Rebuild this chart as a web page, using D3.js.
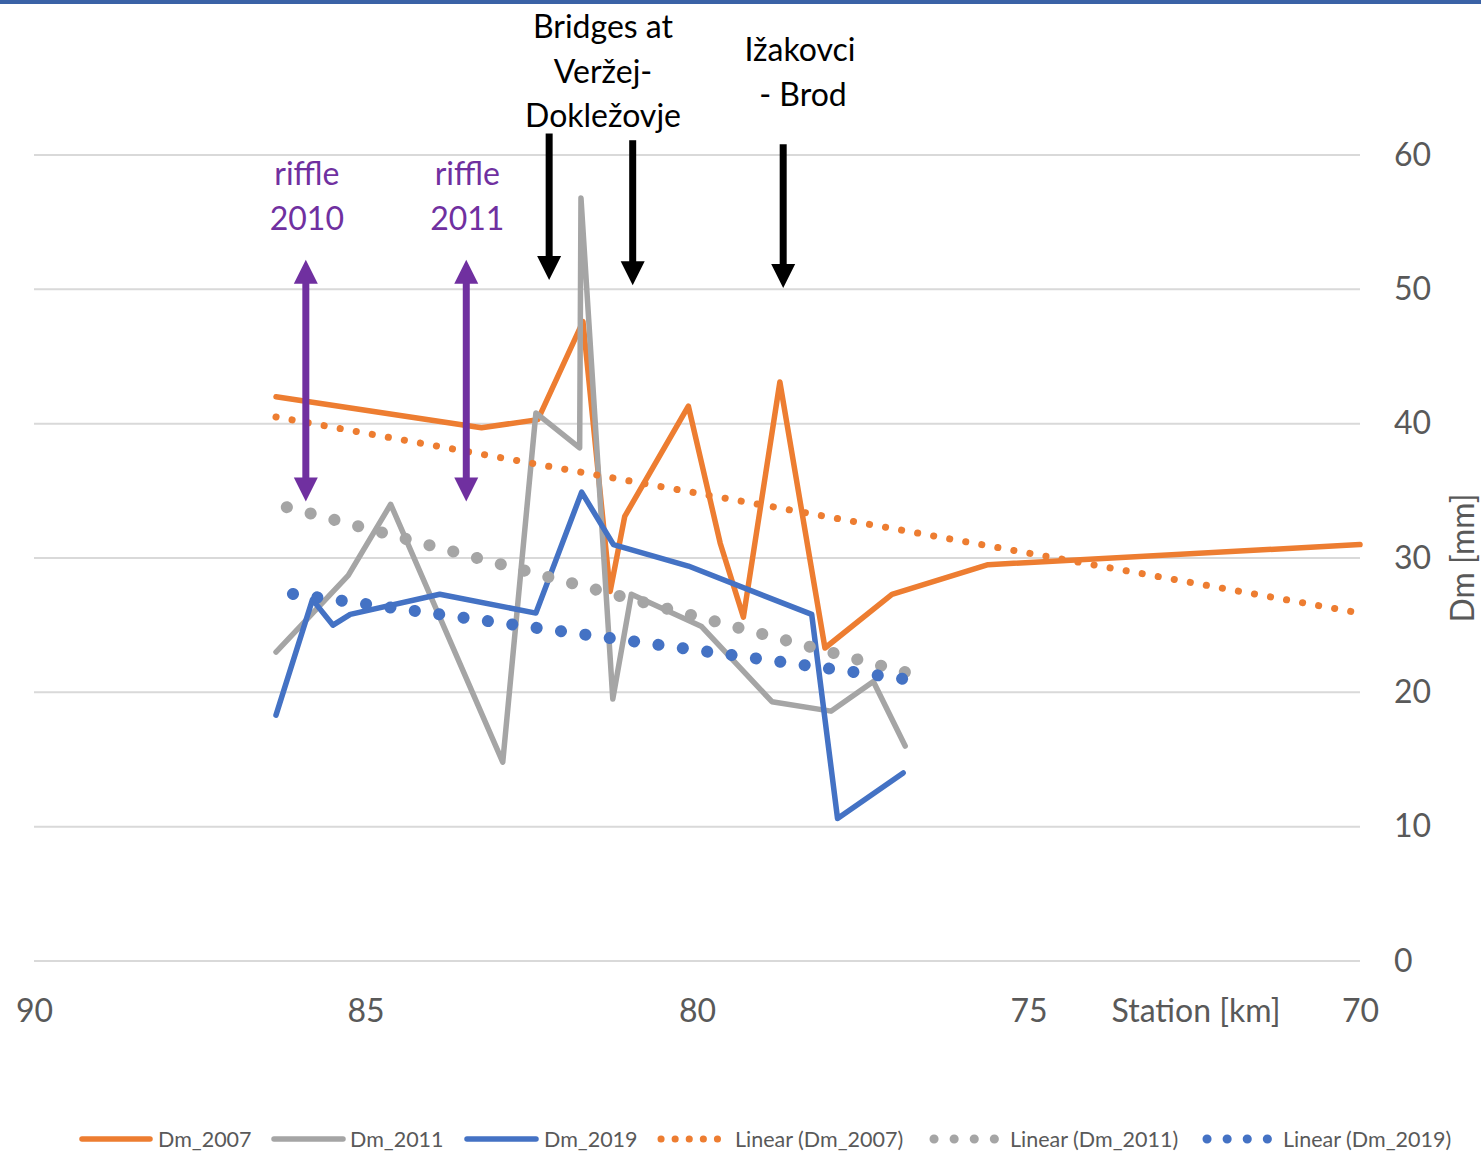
<!DOCTYPE html>
<html>
<head>
<meta charset="utf-8">
<script src="https://cdn.jsdelivr.net/npm/d3@7"></script>
<style>
  body { margin: 0; background: #fff; }
  svg { display: block; font-family: Lato, "Open Sans", sans-serif; }
</style>
</head>
<body>
<svg id="chart" width="1481" height="1151"></svg>
<script>
// station [km] and Dm [mm] per survey year
var km2007 = [86.35, 83.25, 82.40, 81.72, 81.31, 81.09, 80.13, 79.65, 79.30, 78.75, 78.07, 77.06, 75.61, 70.0];
var dm2007 = [42.0, 39.7, 40.3, 47.6, 27.5, 33.1, 41.3, 31.1, 25.6, 43.1, 23.3, 27.3, 29.5, 31.0];

var km2011 = [86.35, 85.26, 84.62, 82.93, 82.43, 81.77, 81.75, 81.27, 80.99, 79.93, 78.87, 77.98, 77.34, 76.86];
var dm2011 = [23.0, 28.7, 34.0, 14.8, 40.8, 38.2, 56.8, 19.5, 27.3, 24.9, 19.3, 18.6, 20.8, 16.0];

var km2019 = [86.35, 85.80, 85.49, 85.23, 83.88, 82.43, 81.74, 81.26, 80.13, 78.27, 77.88, 76.89];
var dm2019 = [18.3, 26.9, 25.0, 25.8, 27.3, 25.9, 34.9, 31.0, 29.4, 25.8, 10.6, 14.0];

// linear trendlines (end points)
var trendKm2007 = [86.35, 70.0];
var trendDm2007 = [40.5, 25.9];
var trendKm2011 = [86.35, 76.86];
var trendDm2011 = [34.0, 21.5];
var trendKm2019 = [86.35, 76.89];
var trendDm2019 = [27.5, 21.0];

var xTicks = [90, 85, 80, 75, 70];
var yTicks = [0, 10, 20, 30, 40, 50, 60];

// annotations
var riffleKm = [85.90, 83.48];
var riffleLabels = [['riffle', '2010'], ['riffle', '2011']];
var bridgeKm = [82.23, 80.97, 78.70];
var bridgeTop = [61.6, 61.1, 60.8];
var bridgeTip = [50.7, 50.3, 50.1];

var svg = d3.select('#chart');

var x = d3.scaleLinear().domain([90, 70]).range([34, 1360]);
var y = d3.scaleLinear().domain([0, 60]).range([961, 155]);

var orange = '#ED7D31', grey = '#A5A5A5', blue = '#4472C4',
    purple = '#7030A0', textCol = '#595959';

// top frame line
svg.append('rect')
  .attr('x', 0).attr('y', 0)
  .attr('width', 1481).attr('height', 4)
  .attr('fill', '#3A62A6');

// gridlines
svg.append('g')
  .selectAll('line')
  .data(yTicks)
  .enter()
  .append('line')
  .attr('x1', x(90)).attr('x2', x(70))
  .attr('y1', function(d){ return y(d); })
  .attr('y2', function(d){ return y(d); })
  .attr('stroke', '#D9D9D9')
  .attr('stroke-width', 2);

// y axis on the right
var yAxis = svg.append('g')
  .attr('transform', 'translate(' + x(70) + ',0)')
  .call(d3.axisRight(y).tickValues(yTicks).tickSize(0).tickPadding(34));
yAxis.select('.domain').remove();
yAxis.selectAll('text')
  .attr('fill', textCol)
  .style('font-size', '32px')
  .style('font-family', 'Lato, "Open Sans", sans-serif');

// x axis
var xAxis = svg.append('g')
  .attr('transform', 'translate(0,' + y(0) + ')')
  .call(d3.axisBottom(x).tickValues(xTicks).tickSize(0).tickPadding(38));
xAxis.select('.domain').remove();
xAxis.selectAll('text')
  .attr('fill', textCol)
  .style('font-size', '32px')
  .style('font-family', 'Lato, "Open Sans", sans-serif');

svg.append('text')
  .attr('x', 1196).attr('y', 1022)
  .attr('text-anchor', 'middle')
  .attr('fill', textCol)
  .style('font-size', '32px')
  .text('Station [km]');

svg.append('text')
  .attr('transform', 'translate(1463,558) rotate(-90)')
  .attr('text-anchor', 'middle')
  .attr('dy', '0.35em')
  .attr('fill', textCol)
  .style('font-size', '32px')
  .text('Dm [mm]');

var line = d3.line()
  .x(function(d){ return x(d[0]); })
  .y(function(d){ return y(d[1]); });

function pairs(a, b){ return a.map(function(v, i){ return [v, b[i]]; }); }

// trendlines (dotted)
var trends = [
  { pts: pairs(trendKm2007, trendDm2007), col: orange, w: 7, dash: '0.1 16.2', off: 0 },
  { pts: pairs(trendKm2011, trendDm2011), col: grey, w: 12, dash: '0.1 24.5', off: 13.4 },
  { pts: pairs(trendKm2019, trendDm2019), col: blue, w: 12, dash: '0.1 24.5', off: 7.5 }
];

// solid series
var series = [
  { pts: pairs(km2007, dm2007), col: orange },
  { pts: pairs(km2011, dm2011), col: grey },
  { pts: pairs(km2019, dm2019), col: blue }
];

svg.append('g')
  .selectAll('path')
  .data(series)
  .enter()
  .append('path')
  .attr('d', function(d){ return line(d.pts); })
  .attr('fill', 'none')
  .attr('stroke', function(d){ return d.col; })
  .attr('stroke-width', 5.5)
  .attr('stroke-linejoin', 'round')
  .attr('stroke-linecap', 'round');

svg.append('g')
  .selectAll('path')
  .data(trends)
  .enter()
  .append('path')
  .attr('d', function(d){ return line(d.pts); })
  .attr('fill', 'none')
  .attr('stroke', function(d){ return d.col; })
  .attr('stroke-width', function(d){ return d.w; })
  .attr('stroke-linecap', 'round')
  .attr('stroke-dasharray', function(d){ return d.dash; })
  .attr('stroke-dashoffset', function(d){ return d.off; });

// arrow helpers
function arrowHead(px, py, dir, col){
  // dir = 1 points down, -1 points up
  var hw = 12, hh = 24;
  svg.append('path')
    .attr('d', 'M' + (px - hw) + ',' + (py - dir * hh) + 'L' + (px + hw) + ',' + (py - dir * hh) + 'L' + px + ',' + py + 'Z')
    .attr('fill', col);
}

// riffle double arrows
riffleKm.forEach(function(k, i){
  var px = x(k), top = y(52.2), bot = y(34.2);
  svg.append('line')
    .attr('x1', px).attr('x2', px)
    .attr('y1', top + 20).attr('y2', bot - 20)
    .attr('stroke', purple).attr('stroke-width', 7);
  arrowHead(px, top, -1, purple);
  arrowHead(px, bot, 1, purple);

  svg.append('g')
    .selectAll('text')
    .data(riffleLabels[i])
    .enter()
    .append('text')
    .attr('x', px + 1)
    .attr('y', function(d, j){ return 185 + j * 45; })
    .attr('text-anchor', 'middle')
    .attr('fill', purple)
    .style('font-size', '32px')
    .text(function(d){ return d; });
});

// bridge arrows
bridgeKm.forEach(function(k, i){
  var px = x(k), top = y(bridgeTop[i]), tip = y(bridgeTip[i]);
  svg.append('line')
    .attr('x1', px).attr('x2', px)
    .attr('y1', top).attr('y2', tip - 20)
    .attr('stroke', '#000').attr('stroke-width', 7);
  arrowHead(px, tip, 1, '#000');
});

var bridgeText = ['Bridges at', 'Veržej-', 'Dokležovje'];
svg.append('g')
  .selectAll('text')
  .data(bridgeText)
  .enter()
  .append('text')
  .attr('x', 603)
  .attr('y', function(d, i){ return 38 + i * 44.5; })
  .attr('text-anchor', 'middle')
  .attr('fill', '#000')
  .style('font-size', '32px')
  .text(function(d){ return d; });

var izText = ['Ižakovci', '- Brod'];
svg.append('g')
  .selectAll('text')
  .data(izText)
  .enter()
  .append('text')
  .attr('x', function(d, i){ return i === 0 ? 800 : 803; })
  .attr('y', function(d, i){ return 61 + i * 44.5; })
  .attr('text-anchor', 'middle')
  .attr('fill', '#000')
  .style('font-size', '32px')
  .text(function(d){ return d; });

// legend
var legendItems = [
  { name: 'Dm_2007', col: orange, type: 'solid', x0: 82, x1: 150, tx: 158 },
  { name: 'Dm_2011', col: grey, type: 'solid', x0: 274, x1: 343, tx: 350 },
  { name: 'Dm_2019', col: blue, type: 'solid', x0: 467, x1: 536, tx: 544 },
  { name: 'Linear (Dm_2007)', col: orange, type: 'dot', x0: 661, x1: 718, tx: 735, dash: '0.1 14', w: 7 },
  { name: 'Linear (Dm_2011)', col: grey, type: 'dot', x0: 934, x1: 995, tx: 1010, dash: '0.1 20', w: 9 },
  { name: 'Linear (Dm_2019)', col: blue, type: 'dot', x0: 1207, x1: 1268, tx: 1283, dash: '0.1 20', w: 9 }
];
var ly = 1139;
var leg = svg.append('g')
  .selectAll('g')
  .data(legendItems)
  .enter()
  .append('g');

leg.append('line')
  .attr('x1', function(d){ return d.x0; })
  .attr('x2', function(d){ return d.x1; })
  .attr('y1', ly).attr('y2', ly)
  .attr('stroke', function(d){ return d.col; })
  .attr('stroke-width', function(d){ return d.type === 'dot' ? d.w : 5.5; })
  .attr('stroke-linecap', 'round')
  .attr('stroke-dasharray', function(d){ return d.type === 'dot' ? d.dash : null; });

leg.append('text')
  .attr('x', function(d){ return d.tx; })
  .attr('y', ly)
  .attr('dy', '0.35em')
  .attr('fill', textCol)
  .style('font-size', '21.5px')
  .text(function(d){ return d.name; });
</script>
</body>
</html>
